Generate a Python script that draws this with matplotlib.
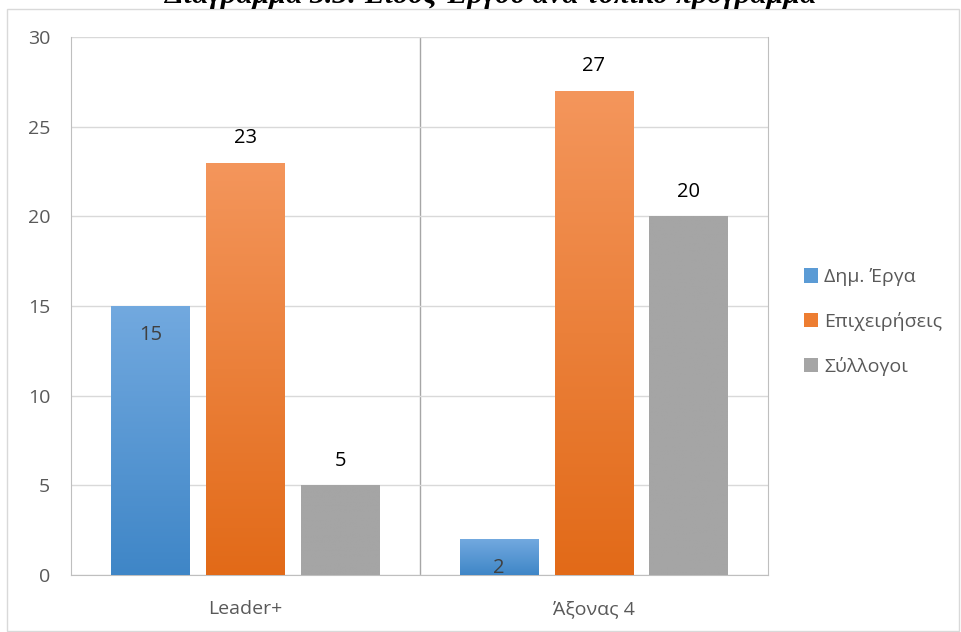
import numpy as np
import matplotlib
matplotlib.use('Agg')
import matplotlib.pyplot as plt
from matplotlib.patches import Rectangle
from matplotlib.colors import LinearSegmentedColormap

categories = ['Leader+', 'Άξονας 4']
series = ['Δημ. Έργα', 'Επιχειρήσεις', 'Σύλλογοι']
values = {
    'Δημ. Έργα': [15, 2],
    'Επιχειρήσεις': [23, 27],
    'Σύλλογοι': [5, 20],
}
yticks = [0, 5, 10, 15, 20, 25, 30]
title = 'Διάγραμμα 3.3: Είδος Έργου ανά τοπικό πρόγραμμα'

plt.rcParams['font.family'] = ['Open Sans', 'DejaVu Sans']

# top colour, bottom colour, legend colour
colors = {
    'Δημ. Έργα': ('#72a9df', '#3f86c7', '#5b9bd5'),
    'Επιχειρήσεις': ('#f4965c', '#e26a18', '#ed7d31'),
    'Σύλλογοι': ('#a5a5a5', '#a5a5a5', '#a5a5a5'),
}

fig = plt.figure(figsize=(9.61, 6.32), dpi=100)
W, H = 961, 632
ax = fig.add_axes([71 / W, 1 - 575 / H, (768 - 71) / W, (575 - 37) / H])

# outer chart border
fig.patches.append(Rectangle((7 / W, 0.002), (W - 9) / W, 1 - 9 / H - 0.002,
                             transform=fig.transFigure, fill=False,
                             edgecolor='#d9d9d9', linewidth=1))

fig.text(491 / W, 1 - 3 / H, title, ha='center', va='baseline',
         family='Liberation Serif', fontsize=21.5, fontweight='bold',
         fontstyle='italic', color='black')

x = np.arange(len(categories))
width = 0.225
offsets = [-0.272, 0.0, 0.272]

for s, off in zip(series, offsets):
    top, bot, leg = colors[s]
    bars = ax.bar(x + off, values[s], width, color=leg, label=s, zorder=3)
    cmap = LinearSegmentedColormap.from_list(s, [bot, top])
    for b, v in zip(bars, values[s]):
        x0, y0 = b.get_x(), b.get_y()
        grad = np.linspace(0, 1, 256).reshape(-1, 1)
        im = ax.imshow(grad, cmap=cmap, origin='lower', aspect='auto',
                       extent=[x0, x0 + b.get_width(), y0, y0 + b.get_height()],
                       zorder=4)
        im.set_clip_path(b)
        if s == 'Δημ. Έργα':
            # label inside the end of the bar
            ax.text(b.get_x() + b.get_width() / 2, v - 1.05, str(v),
                    ha='center', va='top', fontsize=14.5, color='#404040', zorder=5)
        else:
            ax.text(b.get_x() + b.get_width() / 2, v + 0.8, str(v),
                    ha='center', va='bottom', fontsize=14.5, color='black', zorder=5)

ax.set_xlim(-0.5, 1.5)
ax.set_ylim(0, 30)
ax.set_yticks(yticks)
ax.set_xticks(x)
ax.set_xticklabels(categories)
ax.grid(axis='y', color='#d9d9d9', linewidth=1, zorder=0)
ax.axvline(0.5, color='#a6a6a6', linewidth=1, zorder=1)
ax.spines['top'].set_visible(False)
for side in ['left', 'right', 'bottom']:
    ax.spines[side].set_color('#bfbfbf')
ax.tick_params(length=0, labelsize=14, colors='#595959')
ax.tick_params(axis='y', pad=15)
ax.tick_params(axis='x', pad=18)

handles, labels = ax.get_legend_handles_labels()
leg = fig.legend(handles, labels, loc='center left',
                 bbox_to_anchor=(786 / W, 1 - 322 / H), frameon=False,
                 fontsize=14, handlelength=0.77, handleheight=0.77,
                 handletextpad=0.28, labelspacing=1.33, labelcolor='#595959')

fig.savefig('out.png', dpi=100)
